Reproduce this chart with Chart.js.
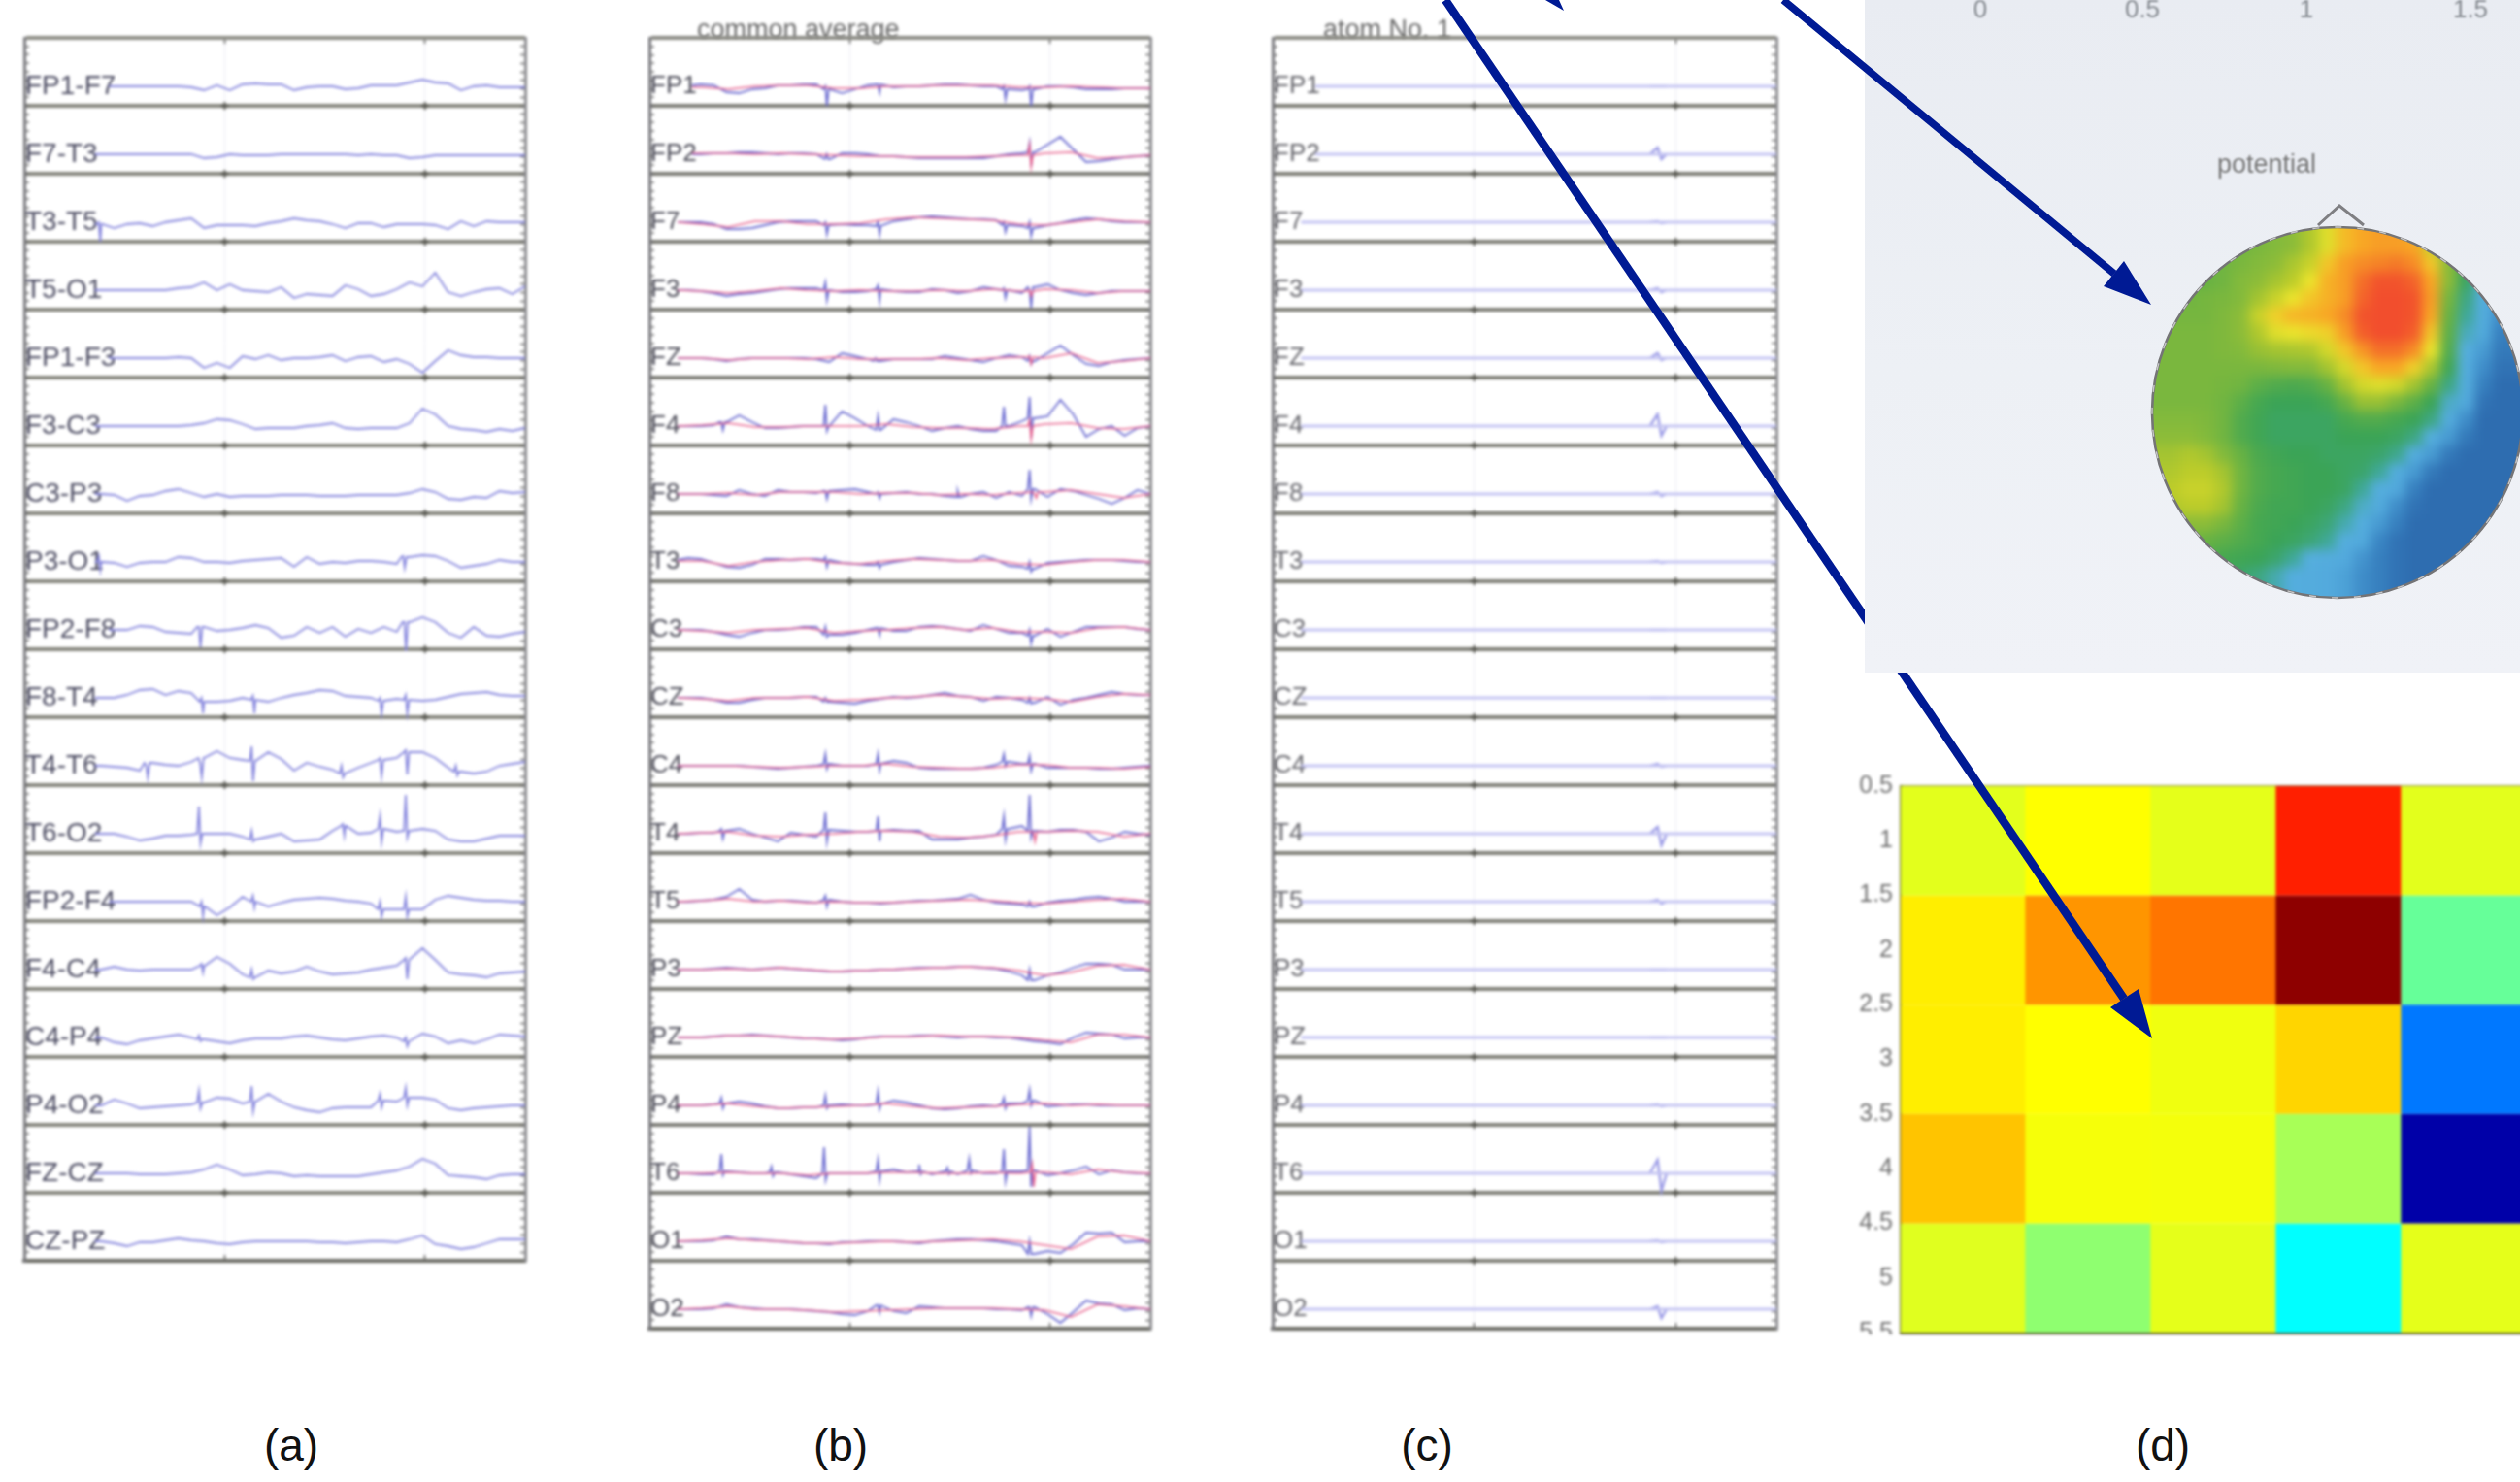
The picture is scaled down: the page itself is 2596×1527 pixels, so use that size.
<!DOCTYPE html>
<html><head><meta charset="utf-8"><title>EEG decomposition figure</title>
<script src="https://cdn.jsdelivr.net/npm/chart.js@4/dist/chart.umd.min.js"></script>
<style>
html,body{margin:0;padding:0;background:#fff;width:2596px;height:1527px;overflow:hidden;font-family:"Liberation Sans",Arial,sans-serif}
.abs{position:absolute}
canvas{display:block}
.cap{position:absolute;font-size:46px;color:#111;transform:translateX(-50%);top:1462px;line-height:54px}
.ttl{position:absolute;font-size:27px;color:#666;top:15px;line-height:30px;filter:blur(1.4px);z-index:1}
.ptx{position:absolute;font-size:26px;color:#858a90;transform:translateX(-50%);filter:blur(.8px);line-height:30px}
</style></head><body>
<div class="ttl" style="left:718px">common average</div>
<div class="ttl" style="left:1363px">atom No. 1</div>
<div class="cap" style="left:300px">(a)</div>
<div class="cap" style="left:866px">(b)</div>
<div class="cap" style="left:1470px">(c)</div>
<div class="cap" style="left:2228px">(d)</div>
<div class="abs" style="left:7px;top:21px;z-index:1;filter:blur(1.5px)"><canvas id="pa"></canvas></div>
<div class="abs" style="left:651px;top:21px;z-index:1;filter:blur(1.5px)"><canvas id="pb"></canvas></div>
<div class="abs" style="left:1293px;top:21px;z-index:1;filter:blur(1.5px)"><canvas id="pc"></canvas></div>
<div class="abs" style="left:1898px;top:793px;z-index:1;filter:blur(1.6px)"><canvas id="heat"></canvas></div>
<div class="abs" style="left:0;top:0;z-index:2;filter:blur(.5px)"><canvas id="arrowsUnder"></canvas></div>
<div class="abs" id="photo" style="left:1921px;top:0;width:675px;height:693px;z-index:3;background:linear-gradient(180deg,#e9ecf2 0%,#edf0f5 55%,#f0f2f7 100%)">
  <div class="ptx" style="left:119px;top:-6px">0</div>
  <div class="ptx" style="left:286px;top:-6px">0.5</div>
  <div class="ptx" style="left:455px;top:-6px">1</div>
  <div class="ptx" style="left:624px;top:-6px">1.5</div>
  <div class="ptx" style="left:414px;top:154px;font-size:27px;color:#777">potential</div>
</div>
<div class="abs" style="left:2217px;top:234px;width:382px;height:382px;z-index:4;clip-path:circle(191px at 191px 191px);overflow:hidden">
  <div style="position:absolute;left:-38px;top:-38px;filter:blur(6px)"><canvas id="topo"></canvas></div>
</div>
<div class="abs" style="left:0;top:0;z-index:5;filter:blur(.5px)"><canvas id="arrowsOver"></canvas></div>
<script>
// ---------- channel labels ----------
const bipolarChannels=["FP1-F7","F7-T3","T3-T5","T5-O1","FP1-F3","F3-C3","C3-P3","P3-O1","FP2-F8","F8-T4","T4-T6","T6-O2","FP2-F4","F4-C4","C4-P4","P4-O2","FZ-CZ","CZ-PZ"];
const referentialChannels=["FP1","FP2","F7","F3","FZ","F4","F8","T3","C3","CZ","C4","T4","T5","P3","PZ","P4","T6","O1","O2"];
const timeTicks=[1,2];
// ---------- panel (a): bipolar montage traces, 40 samples each ----------
const aFP1F7=[0,0,0,0,0,0,0,0,0,0,0,0,0,-1,-4,1,-4,2,3,2,2,-4,-1,0,0,-3,-2,1,1,1,4,7,4,3,-4,0,1,-1,-1,-1];
const aF7T3=[0,0,0,0,0,0,0,0,0,0,0,0,0,0,-4,-3,0,-1,-1,-1,0,0,0,0,0,0,-1,0,-1,-1,-4,-3,-1,-1,-1,-1,-1,-1,-1,-1];
const aT3T5=[0,0,0,0,0,-3,-2,-6,-2,-1,-4,0,2,4,-6,-3,-3,-3,-4,-1,1,4,2,1,-2,-6,-1,-1,-5,-2,-2,-2,-3,-7,1,-4,1,0,0,0];
const aT5O1=[0,0,0,0,0,0,0,0,0,0,0,0,2,3,8,0,6,0,-1,-2,3,-8,-4,-5,-6,5,1,-6,-4,1,8,4,18,-2,-6,-2,1,2,-4,4];
const aFP1F3=[0,0,0,0,0,0,0,0,0,0,0,0,1,0,-10,-5,-10,2,-1,3,-2,0,0,1,3,-3,1,2,-4,-1,-6,-15,-3,8,3,1,1,0,0,0];
const aF3C3=[0,0,0,0,0,0,0,0,0,0,0,0,0,1,3,7,6,2,-3,-2,-2,-2,0,1,3,-2,-3,-2,-2,-2,3,18,12,0,-3,-4,-6,-3,-5,-2];
const aC3P3=[0,0,0,0,0,0,0,-1,-7,-2,-1,3,5,1,-3,0,-3,-2,-2,-2,-1,-1,-1,-2,-2,-2,-1,-1,-1,-1,1,5,2,-5,-6,-3,-4,3,1,2];
const aP3O1=[0,0,0,0,0,0,0,-1,-5,-1,0,0,5,4,0,0,-1,1,2,3,4,-5,5,-2,0,-1,1,1,0,-2,5,7,6,1,-6,-4,-2,2,0,0];
const aFP2F8=[0,0,0,0,0,0,0,0,0,4,3,-2,-3,-4,3,-1,0,2,5,2,-8,-6,3,-3,3,-7,1,-3,3,-2,8,13,8,-3,-8,3,-6,-7,-4,-2];
const aF8T4=[0,0,0,0,0,0,0,0,3,8,9,3,7,5,-4,-4,-3,0,-2,-4,0,3,5,8,7,2,1,0,-3,-1,-2,-3,-2,1,4,5,6,3,2,2];
const aT4T6=[0,0,0,0,0,0,0,-1,-2,-5,3,1,0,4,8,15,8,6,5,14,7,-5,3,-1,-4,-8,-2,3,6,8,14,14,8,-2,-6,-8,-6,0,2,4];
const aT6O2=[0,0,0,0,0,0,0,0,-3,-7,-5,-2,-2,-1,0,0,0,-3,-6,-3,0,-8,-7,-6,3,8,0,1,5,2,3,5,3,-6,-8,-8,-5,-2,-2,-2];
const aFP2F4=[0,0,0,0,0,0,0,0,0,0,0,0,0,0,-5,-14,-6,5,0,-5,-1,2,3,4,3,1,0,-2,-8,-8,-8,-8,2,6,4,2,1,1,0,0];
const aF4C4=[0,0,0,0,0,0,0,3,0,-1,0,0,0,0,4,13,6,-5,-8,-1,-4,-2,3,-2,-5,-4,-3,0,2,4,10,22,10,-3,-5,-6,-8,-4,-3,-2];
const aC4P4=[0,0,0,0,0,0,0,-5,-7,-3,-1,1,3,0,-2,-4,-6,-3,-1,-1,-1,1,2,0,-2,-3,-1,1,2,0,-4,4,1,-6,-3,-6,-2,3,2,1];
const aP4O2=[0,0,0,0,0,0,0,6,2,-3,-2,-1,0,1,3,8,7,2,4,12,4,-2,-5,-7,-3,-2,-2,-2,5,4,8,8,6,-3,-5,-3,-2,-1,0,0];
const aFZCZ=[0,0,0,0,0,0,0,0,0,-1,-1,-1,0,1,4,9,4,-2,-1,1,0,-3,-2,-3,-3,-3,-3,-1,1,3,7,15,10,-2,-3,-4,-6,-2,-1,-1];
const aCZPZ=[0,0,0,0,0,0,0,-2,-5,-1,-1,1,3,1,0,-2,-3,-1,0,0,0,0,0,-1,-1,-2,-1,0,0,-1,2,6,-3,-5,-8,-6,-2,2,2,2];
const aTraces=[aFP1F7,aF7T3,aT3T5,aT5O1,aFP1F3,aF3C3,aC3P3,aP3O1,aFP2F8,aF8T4,aT4T6,aT6O2,aFP2F4,aF4C4,aC4P4,aP4O2,aFZCZ,aCZPZ];
// spikes: [sample, high level, low level]
const aSpikes=[[],[],[[5.8,0,-20]],[],[],[],[],[[5.8,6,-8],[29.5,6,-6]],[[13.6,3,-18],[29.6,8,-22]],[[13.8,0,-16],[17.8,2,-16],[27.7,0,-16],[29.7,3,-16]],[[9.5,0,-12],[13.7,2,-12],[17.7,20,-16],[24.7,0,-12],[27.7,8,-10],[29.7,16,-9],[33.6,0,-10]],[[13.6,28,-10],[17.7,3,-8],[24.8,10,-2],[27.7,18,-8],[29.7,40,-4]],[[13.8,0,-15],[17.8,6,-6],[27.7,0,-15],[29.7,5,-15]],[[13.8,6,-3],[17.7,0,-10],[29.7,12,-10]],[[13.6,2,-4],[29.7,0,-9]],[[13.6,15,-3],[17.7,20,-6],[27.7,12,-2],[29.7,18,0]],[],[]];
// ---------- panel (b): common average, blue traces ----------
const bFP1=[0,0,0,1,2,1,-6,-7,-3,-2,1,1,2,2,-3,-7,-3,1,2,-1,0,0,1,2,2,1,0,0,-3,-4,-3,0,0,-1,-3,-3,-3,-2,-2,-2];
const bFP2=[0,0,0,0,0,1,1,2,2,1,0,1,1,0,-5,1,1,0,-2,-2,-3,-4,-4,-4,-4,-4,-4,-2,0,1,2,10,18,5,-8,-7,-5,-3,-2,-1];
const bF7=[0,0,0,0,0,-2,-7,-7,-6,-3,0,1,1,1,-3,-2,-3,-3,-4,1,3,5,6,5,4,3,3,2,-3,-4,-6,-3,-1,2,4,3,1,0,0,0];
const bF3=[0,0,0,0,-1,-3,-6,-4,-3,-1,1,2,2,2,0,-2,-2,-1,1,-1,-2,-2,1,0,-3,-1,3,1,0,-3,3,6,0,-3,-5,-3,-1,-1,-1,-1];
const bFZ=[0,0,0,0,0,-1,-3,-1,0,0,0,0,0,-1,-4,5,2,-1,-3,-1,-1,-1,-1,2,0,-2,-4,0,3,1,-3,5,13,3,-6,-8,-4,-2,-1,0];
const bF4=[0,0,0,0,0,1,4,11,4,-2,-2,-1,0,0,0,15,8,0,-4,7,4,0,-5,-2,0,-3,-5,-5,0,5,8,10,27,12,-11,-3,0,-10,-2,0];
const bF8=[0,0,0,0,0,-1,-2,4,0,-2,4,2,2,1,3,4,5,2,0,1,2,0,0,-2,-3,0,2,-4,2,-2,5,-3,5,3,-1,-5,-10,-4,4,0];
const bT3=[0,0,2,4,3,-1,-5,-6,-3,3,3,2,3,3,2,-1,-2,-3,-3,0,2,4,3,2,1,1,6,2,-4,-5,-7,-1,0,1,2,2,2,1,0,0];
const bC3=[0,0,0,0,0,-2,-5,-7,-3,0,0,1,3,3,-5,-5,-3,0,2,-1,-1,3,4,3,1,-1,5,1,-3,-3,-6,1,-7,-2,3,3,3,3,1,0];
const bCZ=[0,0,0,0,0,-2,-5,-5,-2,0,0,0,1,1,-4,-5,-6,-3,-1,1,0,1,3,5,2,1,-3,1,0,-2,-5,1,-7,-2,0,3,6,4,3,3];
const bC4=[0,0,0,0,0,0,0,0,-1,-2,-3,-2,-1,0,2,0,0,0,2,5,3,-2,-3,-3,-3,-3,-2,1,4,2,2,-2,-2,-2,-2,-3,-3,-2,-1,0];
const bT4=[0,0,0,0,1,1,3,5,0,-4,-8,1,-1,-3,4,3,2,2,3,4,3,3,-6,-6,-6,-4,-3,-1,5,8,3,2,4,4,2,-8,-4,2,0,-1];
const bT5=[0,0,0,0,1,2,5,13,2,0,1,1,0,-1,2,0,-1,-1,-2,-1,0,1,1,2,3,7,2,-1,-2,-3,-5,-1,1,2,4,5,3,0,0,0];
const bP3=[0,0,0,0,0,1,2,1,0,1,2,1,0,-1,-2,-2,-1,-1,0,0,1,2,2,2,3,3,2,1,-2,-6,-11,-6,-3,2,6,6,5,0,0,0];
const bPZ=[0,0,0,0,0,1,2,2,3,2,1,0,-1,-1,-2,-3,-2,0,1,1,1,2,2,1,0,1,1,0,0,-2,-4,-5,-7,0,5,4,3,-1,0,0];
const bP4=[0,0,0,0,0,1,2,4,2,-1,-3,-3,-2,-2,0,1,0,0,1,5,3,0,-3,-4,-3,-1,0,-1,2,2,5,-1,0,1,1,0,0,0,0,0];
const bT6=[0,0,0,0,-1,-1,2,1,0,0,1,-1,-3,-5,0,0,0,0,2,4,1,2,-1,2,-1,3,0,0,2,2,3,-2,0,3,7,-1,3,1,0,0];
const bO1=[0,0,0,0,0,1,5,2,2,1,0,-1,-2,-2,-3,-1,-1,0,0,0,-1,-2,0,1,2,2,1,0,-2,-4,-13,-10,-12,-3,9,8,9,-1,0,0];
const bO2=[0,0,0,0,0,1,5,2,1,0,0,0,-1,-2,-3,-5,-6,-2,4,-2,-4,3,2,1,1,1,1,0,0,-1,2,-5,-14,-3,9,6,5,-1,1,0];
const bBlue=[bFP1,bFP2,bF7,bF3,bFZ,bF4,bF8,bT3,bC3,bCZ,bC4,bT4,bT5,bP3,bPZ,bP4,bT6,bO1,bO2];
const bBlueSpikes=[[[13.7,0,-20],[17.8,2,-6],[27.6,0,-13],[29.6,0,-20]],[[13.8,0,-5],[29.6,12,-12]],[[13.7,0,-12],[17.8,0,-12],[27.6,0,-10],[29.6,0,-14]],[[13.7,8,-10],[17.8,5,-10],[27.6,2,-8],[29.6,0,-18]],[[17.6,0,-3],[29.6,2,-6]],[[5.6,4,-4],[13.7,22,-5],[17.8,10,-4],[27.6,20,0],[29.6,30,-12]],[[13.7,3,-5],[17.8,2,-4],[24,3,-3],[29.6,25,-5]],[[13.7,5,-5],[17.8,0,-6],[29.6,0,-10]],[[13.7,3,-7],[17.8,2,-5],[29.6,0,-14]],[[13.7,0,-4],[29.6,0,-6]],[[13.7,12,-3],[17.8,12,-4],[27.6,12,0],[29.6,10,-5]],[[5.6,5,-5],[13.7,22,-8],[17.8,18,-8],[27.6,18,-6],[29.6,40,-4]],[[13.7,6,-5],[29.6,0,-5]],[[29.6,0,-11]],[],[[5.6,8,-3],[13.7,10,-3],[17.8,14,-3],[27.6,8,-3],[29.6,16,0]],[[5.6,20,-2],[9.5,7,-3],[13.6,27,-7],[17.8,14,-6],[21,9,-1],[23.2,6,-1],[24.9,15,0],[27.6,25,-8],[29.6,48,-14]],[[29.6,0,-13]],[[17.8,4,-3],[29.6,2,-7]]];
// ---------- panel (b): red reconstruction traces, 20 samples each ----------
const rFP1=[0,0,-1,-3,0,1,1,-2,-2,0,0,1,1,1,-1,-1,0,-1,-2,-2];
const rFP2=[0,0,1,1,0,1,0,-1,-2,-2,-3,-3,-3,-2,-1,1,2,-4,-3,-1];
const rF7=[0,0,-2,-5,1,1,-2,-2,-1,3,5,4,3,2,-2,-3,0,3,1,0];
const rF3=[0,0,-1,-3,-1,2,0,-1,0,-1,-1,0,-1,1,-1,1,0,-3,-1,-1];
const rFZ=[0,0,0,-2,0,0,-1,1,-1,-1,-1,0,-2,0,1,0,5,-5,-3,0];
const rF4=[0,0,1,3,-1,-1,0,0,0,2,-1,-2,-2,-3,0,2,3,-2,-3,0];
const rF8=[0,0,0,1,-1,2,2,2,0,1,1,-1,0,-1,1,2,4,0,-4,0];
const rT3=[0,1,1,-4,0,2,3,-1,-2,1,3,2,1,2,-2,-3,0,2,2,0];
const rC3=[0,0,-1,-3,0,1,2,-3,-1,0,2,3,0,2,-2,-2,-3,2,3,0];
const rCZ=[0,0,-1,-3,0,0,1,-3,-2,0,1,3,1,-1,0,-1,-4,1,4,3];
const rC4=[0,0,0,0,-1,-2,-1,0,0,2,-1,-2,-3,-2,1,1,-2,-2,-3,-1];
const rT4=[0,0,1,2,-2,-3,-1,0,2,3,2,-3,-4,-2,2,2,3,2,-3,0];
const rT5=[0,0,1,3,0,1,-1,0,-1,-1,0,1,2,1,-1,-2,0,2,3,0];
const rP3=[0,0,0,1,0,2,0,-2,-1,0,1,2,3,2,-1,-6,-3,4,5,0];
const rPZ=[0,0,0,2,2,1,-1,-2,-1,1,1,2,1,1,0,-3,-5,3,3,0];
const rP4=[0,0,0,2,-1,-3,-2,-1,0,2,-1,-3,-2,-1,1,2,0,1,0,0];
const rT6=[0,0,0,1,0,0,-2,0,0,1,1,0,0,1,0,1,-1,4,1,0];
const rO1=[0,0,1,3,1,0,-2,-2,-1,0,-1,0,1,2,0,-4,-8,5,6,0];
const rO2=[0,0,1,3,0,0,-1,-3,-2,-1,0,1,1,1,0,-1,-8,5,3,0];
const bRed=[rFP1,rFP2,rF7,rF3,rFZ,rF4,rF8,rT3,rC3,rCZ,rC4,rT4,rT5,rP3,rPZ,rP4,rT6,rO1,rO2];
const bRedSpikes=[[],[[29.6,10,-13]],[],[[29.6,0,-6]],[[29.6,2,-6]],[[29.6,6,-13]],[[30,0,-4]],[],[],[],[],[[29.9,2,-8]],[],[],[],[],[[29.8,10,-14]],[],[]];
// ---------- panel (c): atom No. 1, flat with one blip ----------
const cFlat=[0,0];
const cBlipHigh=[0,7,1,2,5,12,2,1,0,0,2,7,2,0,0,1,14,1,3];
const cBlipLow=[0,-5,-1,-2,-2,-10,-2,-1,0,0,-1,-12,-2,0,0,-1,-18,-1,-9];
const cBlipSample=29.8;
// ---------- panel (d): heat map ----------
const heatRowLabels=[1,2,3,4,5];
const heatColumnLabels=["1","2","3","4","5"];
const heatRow1=[0.598,0.625,0.600,0.845,0.598];
const heatRow2=[0.642,0.729,0.760,0.986,0.475];
const heatRow3=[0.642,0.625,0.610,0.666,0.243];
const heatRow4=[0.683,0.616,0.614,0.540,0.040];
const heatRow5=[0.595,0.515,0.600,0.375,0.600];
const heatYTicks=[0.5,1,1.5,2,2.5,3,3.5,4,4.5,5,5.5];
// ---------- scalp map values (0 low ... 1 high), 20 x 20 estimate ----------
const topoRow00=[.42,.42,.42,.42,.44,.46,.48,.50,.56,.64,.74,.78,.80,.80,.78,.60,.50,.35,.30,.25];
const topoRow01=[.42,.42,.42,.44,.46,.48,.50,.55,.60,.72,.80,.84,.86,.88,.84,.72,.50,.35,.25,.20];
const topoRow02=[.42,.42,.42,.44,.48,.50,.54,.58,.66,.76,.80,.90,.95,.95,.92,.78,.50,.33,.22,.18];
const topoRow03=[.44,.44,.45,.46,.48,.54,.60,.66,.72,.76,.80,.92,.97,.97,.95,.80,.45,.30,.20,.12];
const topoRow04=[.45,.45,.45,.47,.50,.60,.70,.75,.76,.78,.84,.95,.97,.97,.95,.78,.42,.28,.18,.10];
const topoRow05=[.46,.46,.46,.47,.50,.56,.64,.66,.68,.70,.80,.93,.97,.97,.93,.72,.40,.25,.15,.08];
const topoRow06=[.46,.46,.46,.47,.48,.52,.54,.55,.56,.62,.72,.82,.90,.90,.84,.66,.38,.22,.12,.07];
const topoRow07=[.46,.46,.46,.46,.46,.46,.47,.48,.48,.54,.62,.72,.78,.78,.70,.55,.35,.20,.10,.06];
const topoRow08=[.46,.46,.46,.45,.44,.40,.38,.37,.38,.42,.54,.62,.64,.62,.54,.42,.30,.18,.08,.05];
const topoRow09=[.46,.46,.46,.44,.40,.36,.34,.34,.34,.36,.42,.52,.52,.46,.40,.34,.24,.14,.06,.05];
const topoRow10=[.48,.48,.47,.44,.38,.35,.33,.33,.33,.33,.36,.38,.38,.36,.34,.30,.19,.10,.05,.05];
const topoRow11=[.50,.50,.48,.44,.38,.35,.33,.33,.33,.33,.34,.34,.34,.33,.30,.22,.12,.07,.05,.05];
const topoRow12=[.54,.56,.54,.48,.42,.37,.35,.34,.34,.33,.33,.33,.32,.29,.21,.12,.07,.05,.05,.05];
const topoRow13=[.56,.58,.58,.54,.44,.38,.36,.35,.34,.34,.33,.32,.28,.20,.12,.07,.05,.05,.05,.05];
const topoRow14=[.58,.60,.60,.56,.44,.38,.36,.35,.34,.34,.33,.28,.22,.14,.08,.05,.05,.05,.05,.05];
const topoRow15=[.56,.58,.58,.54,.42,.37,.35,.35,.34,.33,.30,.24,.17,.10,.06,.05,.05,.05,.05,.05];
const topoRow16=[.50,.50,.50,.46,.40,.36,.35,.34,.33,.31,.26,.20,.12,.08,.05,.05,.05,.05,.05,.05];
const topoRow17=[.44,.44,.42,.40,.38,.36,.34,.33,.31,.28,.21,.15,.09,.06,.05,.05,.05,.05,.05,.05];
const topoRow18=[.38,.38,.38,.36,.35,.34,.32,.28,.22,.19,.16,.11,.08,.06,.05,.05,.05,.05,.05,.05];
const topoRow19=[.36,.36,.34,.34,.32,.30,.26,.20,.18,.16,.13,.10,.08,.06,.05,.05,.05,.05,.05,.05];
const topoRows=[topoRow00,topoRow01,topoRow02,topoRow03,topoRow04,topoRow05,topoRow06,topoRow07,topoRow08,topoRow09,topoRow10,topoRow11,topoRow12,topoRow13,topoRow14,topoRow15,topoRow16,topoRow17,topoRow18,topoRow19];
const topoStops=[[.05,[46,109,176]],[.09,[58,134,196]],[.14,[82,169,220]],[.22,[85,174,222]],[.28,[63,168,150]],[.34,[59,164,86]],[.42,[104,178,67]],[.5,[140,188,57]],[.58,[188,204,42]],[.66,[235,228,44]],[.78,[248,167,37]],[.88,[244,122,40]],[.96,[242,78,45]]];

// ---------- shared settings ----------
Chart.defaults.animation=false;
Chart.defaults.font.family='"Liberation Sans",Arial,sans-serif';
Chart.defaults.plugins.legend.display=false;
Chart.defaults.plugins.tooltip.enabled=false;
Chart.defaults.events=[];
const ROW=70, SAMPLES=39, TMAX=2.5, MARGIN=18;
const toTime=k=>k/SAMPLES*TMAX;
function sizeCanvas(id,w,h){const c=document.getElementById(id);c.width=w;c.height=h;c.style.width=w+'px';c.style.height=h+'px';return c;}
// the trace starts where its channel label ends
const labelEnd=label=>label.length*1.1;
function tracePoints(values,base,spikes,label){
  const n=values.length-1, pts=values.map((v,i)=>({x:toTime(i*SAMPLES/n),y:base+v}));
  (spikes||[]).forEach(s=>{
    const k=s[0], y0=base+values[Math.round(k*n/SAMPLES)];
    pts.push({x:toTime(k-.14),y:y0},{x:toTime(k),y:base+s[1]},{x:toTime(k+.12),y:base+s[2]},{x:toTime(k+.26),y:y0});
  });
  const start=toTime(labelEnd(label));
  const kept=pts.filter(p=>p.x>=start).sort((a,b)=>a.x-b.x);
  kept.unshift({x:start,y:base+values[Math.round(labelEnd(label)*n/SAMPLES)]});
  return kept;
}
function fixFit(w,h){return s=>{if(w!==null)s.width=w;if(h!==null)s.height=h;s.paddingTop=0;s.paddingBottom=0;s.paddingLeft=0;s.paddingRight=0;};}
function panel(id,labels,datasets,opt){
  const N=labels.length, H=N*ROW, W=opt.width;
  const baseAt=i=>(N-1-i)*ROW+20;
  const sideTicks=[];for(let r=0;r<=N;r++){for(let m=0;m<8&&(r<N||m===0);m++)sideTicks.push(r*ROW+m*ROW/8);}
  const rowLines=[];for(let r=1;r<N;r++)rowLines.push(r*ROW);
  const crosses=[];rowLines.forEach(y=>timeTicks.forEach(x=>crosses.push({x,y})));
  const ds=datasets(baseAt).concat([{data:crosses,showLine:false,pointStyle:'cross',pointRadius:4,pointBorderWidth:2,borderColor:'#55554e',order:-1}]);
  const isRow=c=>c.index%8===0;
  const vert={min:0,max:H,afterBuildTicks:s=>{s.ticks=sideTicks.map(value=>({value}));},afterFit:fixFit(MARGIN,null),ticks:{display:false,autoSkip:false}};
  const horiz={min:0,max:TMAX,afterBuildTicks:s=>{s.ticks=timeTicks.map(value=>({value}));},afterFit:fixFit(null,MARGIN),ticks:{display:false,autoSkip:false}};
  new Chart(sizeCanvas(id,W+2*MARGIN,H+2*MARGIN),{type:'scatter',data:{datasets:ds},options:{
    responsive:false,maintainAspectRatio:false,layout:{padding:0},
    elements:{line:{tension:0},point:{radius:0}},
    scales:{
      x:{...horiz,position:'bottom',border:{color:'#6a6a63',width:4},grid:{color:'rgba(205,205,225,.4)',lineWidth:1,tickColor:'#555',tickLength:-6,tickWidth:1.5}},
      xT:{...horiz,position:'top',border:{color:'#8c8c85',width:3},grid:{drawOnChartArea:false,tickColor:'#555',tickLength:-6,tickWidth:1.5}},
      y:{...vert,position:'left',border:{color:'#78787c',width:3},grid:{color:c=>isRow(c)?opt.rowColor:'rgba(0,0,0,0)',lineWidth:c=>isRow(c)?4:0,tickColor:'#666',tickLength:-5,tickWidth:1.5}},
      yR:{...vert,position:'right',border:{color:'#8c8c90',width:3},grid:{drawOnChartArea:false,tickColor:'#666',tickLength:-5,tickWidth:1.5}},
      yL:{min:0,max:H,position:'left',grid:{display:false},border:{display:false},
        afterBuildTicks:s=>{s.ticks=labels.map((_,i)=>({value:baseAt(i)}));},
        afterFit:fixFit(0,null),
        ticks:{mirror:true,padding:MARGIN+1,autoSkip:false,color:opt.labelColor,font:{size:opt.labelSize},callback:v=>labels[N-1-(v-20)/ROW]}}
    }}});
}
// ---------- panels ----------
panel('pa',bipolarChannels,baseAt=>aTraces.map((t,i)=>({data:tracePoints(t,baseAt(i),aSpikes[i],bipolarChannels[i]),showLine:true,borderColor:'#8282dc',borderWidth:1.8})),{width:516,rowColor:'#85857c',labelColor:'#4c4c62',labelSize:28});
panel('pb',referentialChannels,baseAt=>bRed.map((t,i)=>({data:tracePoints(t,baseAt(i),bRedSpikes[i],referentialChannels[i]),showLine:true,borderColor:'#e8608c',borderWidth:1.6,order:1})).concat(bBlue.map((t,i)=>({data:tracePoints(t,baseAt(i),bBlueSpikes[i],referentialChannels[i]),showLine:true,borderColor:'#6a6ad0',borderWidth:1.8,order:2}))),{width:516,rowColor:'#7c7c75',labelColor:'#4c4c58',labelSize:26});
panel('pc',referentialChannels,baseAt=>referentialChannels.map((lbl,i)=>({data:tracePoints(cFlat,baseAt(i),[],lbl),showLine:true,borderColor:'#c4c4f2',borderWidth:3.2})).concat(referentialChannels.map((lbl,i)=>({data:[{x:toTime(cBlipSample-.6),y:baseAt(i)},{x:toTime(cBlipSample),y:baseAt(i)+cBlipHigh[i]},{x:toTime(cBlipSample+.3),y:baseAt(i)+cBlipLow[i]},{x:toTime(cBlipSample+.7),y:baseAt(i)}],showLine:true,borderColor:'#9a9ae6',borderWidth:2.4}))),{width:519,rowColor:'#7e7e76',labelColor:'#66666c',labelSize:26});
// ---------- heat map ----------
function jet(v){
  const seg=[[0,[0,0,.5]],[.125,[0,0,1]],[.375,[0,1,1]],[.625,[1,1,0]],[.875,[1,0,0]],[1,[.5,0,0]]];
  for(let i=1;i<seg.length;i++){if(v<=seg[i][0]){const f=(v-seg[i-1][0])/(seg[i][0]-seg[i-1][0]);const c=seg[i-1][1].map((a,j)=>Math.round(255*(a+(seg[i][1][j]-a)*f)));return `rgb(${c})`;}}
  return '#800000';
}
const heatRows=[heatRow1,heatRow2,heatRow3,heatRow4,heatRow5];
new Chart(sizeCanvas('heat',705,582),{type:'bar',data:{labels:heatColumnLabels,datasets:heatRows.map((r,i)=>({
  data:r.map(()=>[heatRowLabels[i]-.5,heatRowLabels[i]+.5]),backgroundColor:r.map(jet),borderWidth:0,grouped:false,barPercentage:1.01,categoryPercentage:1}))},
  options:{responsive:false,maintainAspectRatio:false,layout:{padding:{top:17}},
  scales:{
    x:{position:'bottom',offset:true,afterFit:fixFit(null,2),ticks:{display:false},border:{color:'#5a5a30',width:3},grid:{drawOnChartArea:false,tickColor:'#6b6b40',tickLength:-5,tickWidth:1.5}},
    xT:{type:'category',labels:heatColumnLabels,position:'top',offset:true,afterFit:fixFit(null,0),ticks:{display:false},border:{color:'#8a8a60',width:2},grid:{drawOnChartArea:false,tickColor:'#8a8a60',tickLength:-5,tickWidth:1.5}},
    y:{reverse:true,min:.5,max:5.5,afterBuildTicks:s=>{s.ticks=heatYTicks.map(value=>({value}));},afterFit:fixFit(60,null),border:{color:'#5a5a30',width:3},grid:{drawOnChartArea:false,drawTicks:false},
      ticks:{autoSkip:false,color:'#6e6e6e',padding:8,font:{size:25},callback:v=>String(v)}}
  }}});
// ---------- scalp map ----------
function topoColor(v){
  if(v<=topoStops[0][0])return `rgb(${topoStops[0][1]})`;
  for(let i=1;i<topoStops.length;i++){if(v<=topoStops[i][0]){const a=topoStops[i-1],b=topoStops[i],f=(v-a[0])/(b[0]-a[0]);return `rgb(${a[1].map((c,j)=>Math.round(c+(b[1][j]-c)*f))})`;}}
  return `rgb(${topoStops[topoStops.length-1][1]})`;
}
const topoPoints=[], topoColors=[];
for(let r=-3;r<23;r++)for(let c=-3;c<23;c++){
  const v=topoRows[Math.min(19,Math.max(0,r))][Math.min(19,Math.max(0,c))];
  topoPoints.push({x:c+.5,y:r+.5});topoColors.push(topoColor(v));
}
const topoUnits=458/19.1;
new Chart(sizeCanvas('topo',458,458),{type:'scatter',data:{datasets:[{data:topoPoints,pointStyle:'rect',pointRadius:15,pointBackgroundColor:topoColors,pointBorderWidth:0}]},
  options:{responsive:false,maintainAspectRatio:false,layout:{padding:0},clip:false,
  scales:{x:{display:false,min:10-topoUnits/2,max:10+topoUnits/2},y:{display:false,reverse:true,min:10-topoUnits/2,max:10+topoUnits/2}}}});
// ---------- arrows and head outline ----------
const pageScales={x:{display:false,min:0,max:2596},y:{display:false,reverse:true,min:0,max:1527}};
const arrowHeads={id:'arrowHeads',afterDatasetsDraw(ch,a,o){
  const g=ch.ctx,X=ch.scales.x,Y=ch.scales.y;g.save();
  (o.polys||[]).forEach(p=>{g.beginPath();p.forEach((q,i)=>{const px=X.getPixelForValue(q[0]),py=Y.getPixelForValue(q[1]);i?g.lineTo(px,py):g.moveTo(px,py);});g.closePath();g.fillStyle=o.color;g.fill();});
  if(o.head){const h=o.head,cx=X.getPixelForValue(h.x),cy=Y.getPixelForValue(h.y);
    g.beginPath();g.arc(cx,cy,h.r,0,Math.PI*2);g.strokeStyle='#747476';g.lineWidth=2.6;g.stroke();
    g.setLineDash([7,16]);g.strokeStyle='rgba(255,255,255,.6)';g.lineWidth=1.4;g.stroke();g.setLineDash([]);
    g.beginPath();h.nose.forEach((q,i)=>{const px=X.getPixelForValue(q[0]),py=Y.getPixelForValue(q[1]);i?g.lineTo(px,py):g.moveTo(px,py);});g.strokeStyle='#7f7f82';g.lineWidth=3;g.stroke();}
  g.restore();
}};
const ARROW='#001a94';
new Chart(sizeCanvas('arrowsUnder',2596,1527),{type:'scatter',plugins:[arrowHeads],
  data:{datasets:[{data:[{x:1489,y:0},{x:2188,y:1029}],showLine:true,borderColor:ARROW,borderWidth:8.5,pointRadius:0}]},
  options:{responsive:false,maintainAspectRatio:false,layout:{padding:0},scales:pageScales,plugins:{arrowHeads:{color:ARROW,polys:[[[2217,1070],[2174,1038],[2203,1019]],[[1592,0],[1611,11],[1606,0]]]}}}});
new Chart(sizeCanvas('arrowsOver',2596,1527),{type:'scatter',plugins:[arrowHeads],
  data:{datasets:[{data:[{x:1837,y:0},{x:2178,y:282}],showLine:true,borderColor:ARROW,borderWidth:7.5,pointRadius:0}]},
  options:{responsive:false,maintainAspectRatio:false,layout:{padding:0},scales:pageScales,plugins:{arrowHeads:{color:ARROW,polys:[[[2216,314],[2167,295],[2188,269]]],head:{x:2408,y:425,r:191,nose:[[2388,232],[2410,212],[2435,232]]}}}}});
</script>
</body></html>
